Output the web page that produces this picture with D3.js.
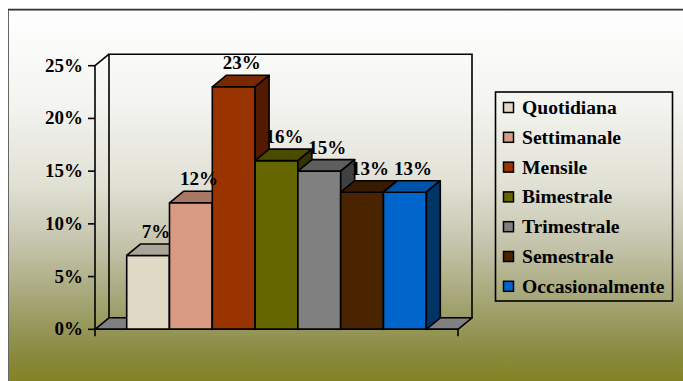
<!DOCTYPE html>
<html><head><meta charset="utf-8">
<script src="https://cdn.jsdelivr.net/npm/d3@7"></script>
<style>html,body{margin:0;padding:0;background:#fff;overflow:hidden}</style>
</head><body>
<svg id="c" width="683" height="381"></svg>
<script>
const categories = ["Quotidiana","Settimanale","Mensile","Bimestrale","Trimestrale","Semestrale","Occasionalmente"];
const values = [7, 12, 23, 16, 15, 13, 13];
const tickValues = [0, 5, 10, 15, 20, 25];
const tickLabels = ["0%","5%","10%","15%","20%","25%"];
const frontColors = ["#e0d9c6","#d99a84","#993300","#666600","#808080","#4a2300","#0066cc"];
const topColors   = ["#aaa598","#a87866","#7a2800","#4c4c00","#5e5e5e","#381a00","#0052a6"];
const sideColors  = ["#7a766c","#7b574a","#521a00","#333300","#404040","#2a1300","#003366"];

const svg = d3.select("#c");
const font = "'Liberation Serif','Times New Roman',serif";

// background
const defs = svg.append("defs");
const g = defs.append("linearGradient").attr("id","bg").attr("x1",0).attr("y1",0).attr("x2",0).attr("y2",1);
[[0,"#ffffff"],[0.25,"#f3f3ef"],[0.45,"#e0e0d4"],[0.6,"#c4c4ac"],[0.75,"#a4a474"],[0.88,"#8a8a40"],[1,"#7e7e10"]]
  .forEach(([o,c])=>g.append("stop").attr("offset",o).attr("stop-color",c));
svg.append("rect").attr("width",683).attr("height",381).attr("fill","#fff");
svg.append("rect").attr("x",8.5).attr("y",10).attr("width",690).attr("height",390)
  .attr("fill","url(#bg)").attr("stroke","#666").attr("stroke-width",1);
svg.append("line").attr("x1",8).attr("x2",683).attr("y1",9.5).attr("y2",9.5).attr("stroke","#333").attr("stroke-width",1.6);

// scales
const X0 = 95, X1 = 458, DX = 14, DY = -11.5;
const y = d3.scaleLinear().domain([0,25]).range([329.3, 65.7]);
const gap = 31.7;
const x = d3.scaleBand().domain(categories).range([X0+gap, X1-gap]).padding(0);
const w = x.bandwidth();

const line = (pts)=> "M" + pts.map(p=>p.join(",")).join("L") + "Z";

// walls
const y0 = y(0), yT = y(25);
svg.append("path").attr("d", line([[X0+DX,yT+DY],[X1+DX,yT+DY],[X1+DX,y0+DY],[X0+DX,y0+DY]]))
  .attr("fill","none").attr("stroke","#000").attr("stroke-width",1.6);
svg.append("path").attr("d", "M"+X0+","+yT+"L"+(X0+DX)+","+(yT+DY))
  .attr("stroke","#000").attr("stroke-width",1.6);
// floor
svg.append("path").attr("d", line([[X0,y0],[X1,y0],[X1+DX,y0+DY],[X0+DX,y0+DY]]))
  .attr("fill","#808080").attr("stroke","#000").attr("stroke-width",1.6).attr("stroke-linejoin","round");

// bars
categories.forEach((c,i)=>{
  const xl = x(c), xr = xl + w, yt = y(values[i]);
  const bg = svg.append("g").attr("stroke","#000").attr("stroke-width",1.6).attr("stroke-linejoin","round");
  bg.append("path").attr("d", line([[xl,yt],[xr,yt],[xr,y0],[xl,y0]])).attr("fill",frontColors[i]);
  bg.append("path").attr("d", line([[xl,yt],[xl+DX,yt+DY],[xr+DX,yt+DY],[xr,yt]])).attr("fill",topColors[i]);
  bg.append("path").attr("d", line([[xr,yt],[xr+DX,yt+DY],[xr+DX,y0+DY],[xr,y0]])).attr("fill",sideColors[i]);
});

// axes
const axis = svg.append("g");
axis.append("line").attr("x1",X0).attr("x2",X0).attr("y1",yT).attr("y2",y0+7).attr("stroke","#000").attr("stroke-width",1.6);
axis.append("line").attr("x1",X0).attr("x2",X1).attr("y1",y0).attr("y2",y0).attr("stroke","#000").attr("stroke-width",1.6);
axis.append("line").attr("x1",X1).attr("x2",X1).attr("y1",y0).attr("y2",y0+7).attr("stroke","#000").attr("stroke-width",1.6);
tickValues.forEach((t,i)=>{
  axis.append("line").attr("x1",X0-7).attr("x2",X0).attr("y1",y(t)).attr("y2",y(t)).attr("stroke","#000").attr("stroke-width",1.6);
  axis.append("text").attr("x",X0-12).attr("y",y(t)+6).attr("text-anchor","end")
    .attr("font-family",font).attr("font-weight","bold").attr("font-size",19).text(tickLabels[i]);
});

// value labels
categories.forEach((c,i)=>{
  svg.append("text").attr("x",x(c)+w/2+8).attr("y",y(values[i])+DY-6).attr("text-anchor","middle")
    .attr("font-family",font).attr("font-weight","bold").attr("font-size",19).text(values[i]+"%");
});

// legend
const lg = svg.append("g");
lg.append("rect").attr("x",495.5).attr("y",92).attr("width",177).attr("height",209)
  .attr("fill","none").attr("stroke","#000").attr("stroke-width",1.6);
categories.forEach((c,i)=>{
  const cy = 107.5 + i*29.8;
  lg.append("rect").attr("x",503.5).attr("y",cy-5).attr("width",10).attr("height",10)
    .attr("fill",frontColors[i]).attr("stroke","#000").attr("stroke-width",1.5);
  lg.append("text").attr("x",522).attr("y",cy+6.5).attr("font-family",font).attr("font-weight","bold")
    .attr("font-size",19.6).text(c);
});
</script>
</body></html>
